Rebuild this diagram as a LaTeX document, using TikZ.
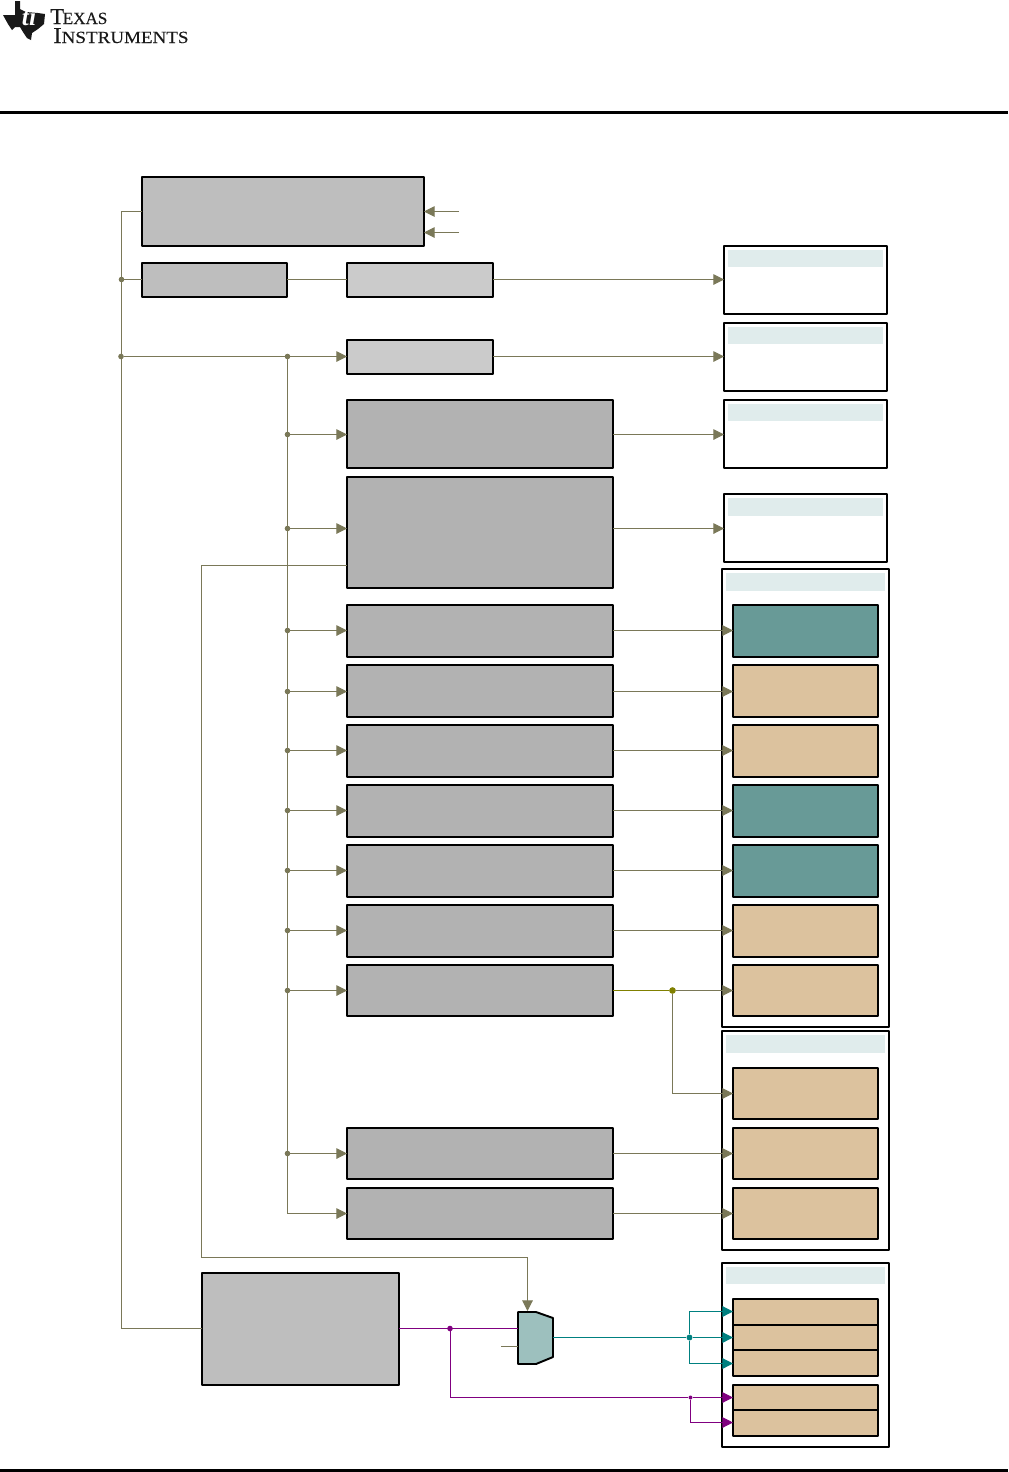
\documentclass[tikz,border=0pt]{standalone}
\usepackage{fontspec}
\setmainfont{Liberation Serif}
\newfontfamily\logofont[FakeBold=0.25]{Liberation Serif}
\usetikzlibrary{arrows.meta}
\definecolor{wire}{HTML}{7A7858}
\definecolor{tealw}{HTML}{008080}
\definecolor{purp}{HTML}{800080}
\definecolor{oliv}{HTML}{808000}
\definecolor{grayA}{HTML}{BEBEBE}
\definecolor{grayB}{HTML}{CBCBCB}
\definecolor{grayC}{HTML}{B2B2B2}
\definecolor{tealbox}{HTML}{689A97}
\definecolor{tanbox}{HTML}{DCC29E}
\definecolor{muxfill}{HTML}{9DC0BE}
\definecolor{band}{HTML}{E0ECEC}
\tikzset{
  x=0.75pt,y=-0.75pt,
  blk/.style={draw=black,line width=1.45pt,inner sep=0pt,outer sep=0pt,line join=round},
  bandbox/.style={fill=band,draw=none,inner sep=0pt,outer sep=0pt},
  wireline/.style={draw=wire,line width=0.75pt},
  wirearrow/.style={wireline,-{Triangle[length=8pt,width=8pt]}},
  tealline/.style={draw=tealw,line width=0.95pt},
  tealarrow/.style={tealline,-{Triangle[length=8pt,width=8pt]}},
  purpline/.style={draw=purp,line width=0.75pt},
  purparrow/.style={purpline,-{Triangle[length=8pt,width=8pt]}},
  dot/.style={circle,fill=wire,draw=none,minimum size=4.2pt,inner sep=0pt,outer sep=0pt},
}
% \bx{name}{fill}{x1}{y1}{x2}{y2}
\newcommand{\bx}[6]{\node[blk,fill=#2,minimum width={(#5-#3)*0.75pt},minimum height={(#6-#4)*0.75pt}] (#1) at ({(#3+#5)/2},{(#4+#6)/2}) {};}
\newcommand{\bnd}[5]{\node[bandbox,minimum width={(#4-#2)*0.75pt},minimum height={(#5-#3)*0.75pt}] (#1) at ({(#2+#4)/2},{(#3+#5)/2}) {};}
\begin{document}
\begin{tikzpicture}
\useasboundingbox (0,0) rectangle (1008,1472);
% header / footer rules
\fill[black] (0,111) rectangle (1008,114);
\fill[black] (0,1469) rectangle (1008,1472);
% logo
\fill[black!90] (15,1)--(20,1)--(20,9)--(26,12)--(38,13)--(45,14)--(44,24)--(38,29)--(32,33)--(31,40)--(27,38)--(23,32)--(20,27)--(15,27)--(12,30)--(8,24)--(3,15)--(15,15)--cycle;
\node[white,inner sep=0pt,font={\fontsize{19pt}{19pt}\selectfont\bfseries\itshape}] (logoti) at (29,17) {ti};
\node[anchor=base west,inner sep=0pt,text=black!90] (logotexas) at (50,24) {\logofont\fontsize{17pt}{17pt}\selectfont T\fontsize{12.8pt}{12pt}\selectfont\kern-1pt EXAS};
\node[anchor=base west,inner sep=0pt,text=black!90] (logoinst) at (53,43) {\scalebox{1.115}[1]{\logofont\fontsize{17pt}{17pt}\selectfont I\fontsize{12.8pt}{12pt}\selectfont NSTRUMENTS}};
% right panels
\bx{ra}{white}{724}{246}{887}{314}\bnd{ba}{728}{250}{883}{267}
\bx{rb}{white}{724}{323}{887}{391}\bnd{bb}{728}{327}{883}{344}
\bx{rc}{white}{724}{400}{887}{468}\bnd{bc}{728}{404}{883}{421}
\bx{rd}{white}{724}{494}{887}{562}\bnd{bd}{728}{498}{883}{516}
\bx{re}{white}{722}{569}{889}{1027}\bnd{be}{726}{573}{885}{591}
\bx{rf}{white}{722}{1031}{889}{1250}\bnd{bf}{726}{1035}{885}{1053}
\bx{rg}{white}{722}{1263}{889}{1447}\bnd{bg}{726}{1267}{885}{1284}
% inner panels
\bx{ia}{tealbox}{733}{605}{878}{657}
\bx{ib}{tanbox}{733}{665}{878}{717}
\bx{ic}{tanbox}{733}{725}{878}{777}
\bx{id}{tealbox}{733}{785}{878}{837}
\bx{ie}{tealbox}{733}{845}{878}{897}
\bx{if}{tanbox}{733}{905}{878}{957}
\bx{ig}{tanbox}{733}{965}{878}{1016}
\bx{ih}{tanbox}{733}{1068}{878}{1119}
\bx{ii}{tanbox}{733}{1128}{878}{1179}
\bx{ij}{tanbox}{733}{1188}{878}{1239}
\bx{ik}{tanbox}{733}{1299}{878}{1325}
\bx{il}{tanbox}{733}{1325}{878}{1350}
\bx{im}{tanbox}{733}{1350}{878}{1376}
\bx{in}{tanbox}{733}{1385}{878}{1410}
\bx{io}{tanbox}{733}{1410}{878}{1436}
% left blocks
\bx{srcA}{grayA}{142}{177}{424}{246}
\bx{srcB}{grayA}{142}{263}{287}{297}
\bx{divC}{grayB}{347}{263}{493}{297}
\bx{divD}{grayB}{347}{340}{493}{374}
\bx{gE}{grayC}{347}{400}{613}{468}
\bx{gF}{grayC}{347}{477}{613}{588}
\bx{ga}{grayC}{347}{605}{613}{657}
\bx{gb}{grayC}{347}{665}{613}{717}
\bx{gc}{grayC}{347}{725}{613}{777}
\bx{gd}{grayC}{347}{785}{613}{837}
\bx{ge}{grayC}{347}{845}{613}{897}
\bx{gf}{grayC}{347}{905}{613}{957}
\bx{gg}{grayC}{347}{965}{613}{1016}
\bx{gi}{grayC}{347}{1128}{613}{1179}
\bx{gj}{grayC}{347}{1188}{613}{1239}
\bx{pll}{grayA}{202}{1273}{399}{1385}
% mux
\filldraw[blk,fill=muxfill] (518,1312)--(536,1312)--(553,1318)--(553,1357)--(536,1364)--(518,1364)--cycle;
\coordinate (muxtop) at (527.5,1311);
\coordinate (muxinA) at (518,1328.5);
\coordinate (muxinB) at (518,1346.5);
\coordinate (muxout) at (553,1337.5);
% free ends and routing rows
\coordinate (extA) at (459,211.5);
\coordinate (extB) at (459,232.5);
\coordinate (extC) at (501,1346.5);
\coordinate (rowtop) at (121.5,211.5);
\coordinate (rowpll) at (121.5,1328.5);
\coordinate (rowj) at (287.5,1213.5);
\coordinate (rowh) at (672.5,1093.5);
\coordinate (fb) at (347,565.5);
\coordinate (fbA) at (201.5,565.5);
\coordinate (fbB) at (201.5,1257.5);
\coordinate (fbC) at (527.5,1257.5);
\coordinate (tealup) at (733,1311.5);
\coordinate (tealdn) at (733,1363.5);
\coordinate (purpdn) at (733,1422.5);
% junctions
\node[dot] (jt) at (121.5,279.5) {};
\node[dot] (jm) at (121,356.5) {};
\node[dot] (j0) at (287.5,356.5) {};
\foreach \n/\y in {E/434.5,F/528.5,a/630.5,b/691.5,c/750.5,d/810.5,e/870.5,f/930.5,g/990.5,i/1153.5}
  {\node[dot] (j\n) at (287.5,\y) {};}
% clock trunk
\draw[wireline] (srcA.west |- rowtop) -- (rowtop) -- (rowpll) -- (pll.west |- rowpll);
\draw[wirearrow] (extA) -- (srcA.east |- extA);
\draw[wirearrow] (extB) -- (srcA.east |- extB);
\draw[wireline] (jt) -- (srcB.west |- jt);
\draw[wireline] (srcB.east |- jt) -- (divC.west |- jt);
\draw[wirearrow] (divC.east |- jt) -- (ra.west |- jt);
\draw[wireline] (jm) -- (j0);
\draw[wirearrow] (j0) -- (divD.west |- j0);
\draw[wirearrow] (divD.east |- j0) -- (rb.west |- j0);
\draw[wireline] (j0) -- (rowj);
\draw[wirearrow] (rowj) -- (gj.west |- rowj);
\draw[wirearrow] (gj.east |- rowj) -- (ij.west |- rowj);
\draw[wirearrow] (jE) -- (gE.west |- jE);
\draw[wirearrow] (gE.east |- jE) -- (rc.west |- jE);
\draw[wirearrow] (jF) -- (gF.west |- jF);
\draw[wirearrow] (gF.east |- jF) -- (rd.west |- jF);
\foreach \n in {a,b,c,d,e,f,g,i}
  {\draw[wirearrow] (j\n) -- (g\n.west |- j\n);}
\foreach \n in {a,b,c,d,e,f,i}
  {\draw[wirearrow] (g\n.east |- j\n) -- (i\n.west |- j\n);}
% split to second panel
\node[circle,fill=oliv,minimum size=5pt,inner sep=0pt] (js) at (672.5,990.5) {};
\draw[draw=oliv,line width=0.75pt] (gg.east |- js) -- (js);
\draw[wirearrow] (js) -- (ig.west |- js);
\draw[wirearrow] (js) -- (rowh) -- (ih.west |- rowh);
% feedback to mux
\draw[wirearrow] (fb) -- (fbA) -- (fbB) -- (fbC) -- (muxtop);
\draw[wireline] (extC) -- (muxinB);
% PLL outputs
\node[circle,fill=purp,minimum size=4.2pt,inner sep=0pt] (jp) at (450,1328.5) {};
\coordinate (jpd) at (450.5,1397.5);
\node[circle,fill=purp,minimum size=3pt,inner sep=0pt] (jq) at (690.5,1397.5) {};
\node[circle,fill=tealw,minimum size=4.5pt,inner sep=0pt] (jr) at (689.5,1337.5) {};
\draw[purpline] (pll.east |- jp) -- (muxinA);
\draw[purpline] (jp |- jp) ++(0.5,0) -- (jpd) -- (jq);
\draw[purparrow] (jq) -- (in.west |- jq);
\draw[purparrow] (jq) -- (jq |- purpdn) -- (purpdn);
\draw[tealline] (muxout) -- (jr);
\draw[tealarrow] (jr) -- (il.west |- jr);
\draw[tealarrow] (jr) -- (jr |- tealup) -- (tealup);
\draw[tealarrow] (jr) -- (jr |- tealdn) -- (tealdn);
\end{tikzpicture}
\end{document}
